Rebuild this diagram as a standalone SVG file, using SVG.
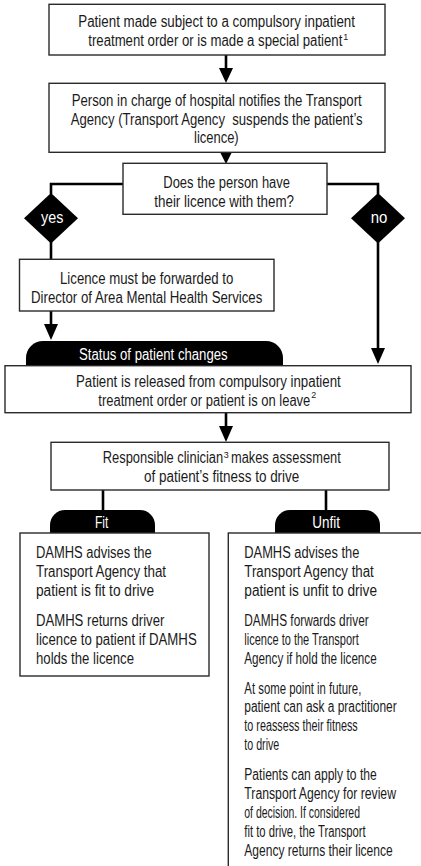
<svg xmlns="http://www.w3.org/2000/svg" width="421" height="866" viewBox="0 0 421 866">
<style>
.box{fill:#fff;stroke:#2a2a2a;stroke-width:1.4}
.t{font-family:"Liberation Sans",Arial,sans-serif;font-size:16px;fill:#1a1a1a}
.w{fill:#fff}
.sup{font-family:"Liberation Sans",Arial,sans-serif;font-size:9px;fill:#1a1a1a}
.ln{fill:none;stroke:#000;stroke-width:2.6}
.ah{fill:#000}
.blk{fill:#000}
</style>
<rect width="421" height="866" fill="#fff"/>
<g id="connectors">
<path class="ln" d="M226,55V70"/><polygon class="ah" points="219,68 233,68 226,83"/>
<path class="ln" d="M226,152V154"/><polygon class="ah" points="220,152 232,152 226,164"/>
<path class="ln" d="M123,184H51V194"/><path class="ln" d="M51,242V259"/>
<path class="ln" d="M327,184H378V194"/><path class="ln" d="M378,242V350"/><polygon class="ah" points="371,348 385,348 378,364"/>
<path class="ln" d="M51,311V326"/><polygon class="ah" points="44,324 58,324 51,340"/>
<path class="ln" d="M226,413V428"/><polygon class="ah" points="219,426 233,426 226,442"/>
<path class="ln" d="M103,490V511"/><path class="ln" d="M326,490V511"/>
</g>
<g id="n1">
<rect class="box" x="49" y="4.3" width="336" height="50.7"/>
<text class="t" x="78.3" y="27" textLength="276.7" lengthAdjust="spacingAndGlyphs">Patient made subject to a compulsory inpatient</text>
<text class="t" x="88.3" y="46.3" textLength="254" lengthAdjust="spacingAndGlyphs">treatment order or is made a special patient</text>
<text class="sup" x="343.3" y="39.5">1</text>
</g>
<g id="n2">
<rect class="box" x="49" y="83.3" width="336" height="69"/>
<text class="t" x="71.7" y="106" textLength="290" lengthAdjust="spacingAndGlyphs">Person in charge of hospital notifies the Transport</text>
<text class="t" x="70.7" y="124.7" textLength="292" lengthAdjust="spacingAndGlyphs">Agency (Transport Agency&#160; suspends the patient’s</text>
<text class="t" x="194" y="143.3" textLength="44.7" lengthAdjust="spacingAndGlyphs">licence)</text>
</g>
<g id="n3">
<rect class="box" x="123" y="163.3" width="204" height="51"/>
<text class="t" x="163.3" y="187.7" textLength="126.7" lengthAdjust="spacingAndGlyphs">Does the person have</text>
<text class="t" x="154.3" y="206.7" textLength="139.7" lengthAdjust="spacingAndGlyphs">their licence with them?</text>
</g>
<g id="yes">
<polygon class="blk" points="51,193 78,218.3 51,243.5 24,218.3"/>
<text class="t w" x="41" y="223.3" textLength="22.3" lengthAdjust="spacingAndGlyphs">yes</text>
</g>
<g id="no">
<polygon class="blk" points="378,193 405,218.3 378,243.5 351,218.3"/>
<text class="t w" x="370.7" y="223.3" textLength="16.6" lengthAdjust="spacingAndGlyphs">no</text>
</g>
<g id="n4">
<rect class="box" x="19.5" y="259.3" width="254.5" height="51.7"/>
<text class="t" x="60" y="284.3" textLength="173.3" lengthAdjust="spacingAndGlyphs">Licence must be forwarded to</text>
<text class="t" x="31" y="303.3" textLength="231.3" lengthAdjust="spacingAndGlyphs">Director of Area Mental Health Services</text>
</g>
<g id="status">
<path class="blk" d="M26,366V358A17,17 0 0 1 43,341H266A17,17 0 0 1 283,358V366Z"/>
<text class="t w" x="79" y="360" textLength="148.7" lengthAdjust="spacingAndGlyphs">Status of patient changes</text>
</g>
<g id="n5">
<rect class="box" x="5" y="365.7" width="406" height="47"/>
<text class="t" x="76" y="387" textLength="264.7" lengthAdjust="spacingAndGlyphs">Patient is released from compulsory inpatient</text>
<text class="t" x="98.3" y="406" textLength="212" lengthAdjust="spacingAndGlyphs">treatment order or patient is on leave</text>
<text class="sup" x="311.3" y="397.5">2</text>
</g>
<g id="n6">
<rect class="box" x="51" y="442.3" width="338" height="47.7"/>
<text class="t" x="102.7" y="463" textLength="120.5" lengthAdjust="spacingAndGlyphs">Responsible clinician</text>
<text class="sup" x="223.8" y="457.5">3</text>
<text class="t" x="231" y="463" textLength="109.7" lengthAdjust="spacingAndGlyphs">makes assessment</text>
<text class="t" x="144" y="482" textLength="155.3" lengthAdjust="spacingAndGlyphs">of patient’s fitness to drive</text>
</g>
<g id="fit">
<path class="blk" d="M50,533.5V525A15,15 0 0 1 65,510H140A15,15 0 0 1 155,525V533.5Z"/>
<text class="t w" x="95" y="528" textLength="13.3" lengthAdjust="spacingAndGlyphs">Fit</text>
</g>
<g id="unfit">
<path class="blk" d="M275,533.5V525A15,15 0 0 1 290,510H365A15,15 0 0 1 380,525V533.5Z"/>
<text class="t w" x="312.3" y="528" textLength="27.7" lengthAdjust="spacingAndGlyphs">Unfit</text>
</g>
<g id="n7">
<rect class="box" x="20" y="533" width="189" height="143"/>
<text class="t" x="36" y="558.3" textLength="115.7" lengthAdjust="spacingAndGlyphs">DAMHS advises the</text>
<text class="t" x="36" y="577.2" textLength="130" lengthAdjust="spacingAndGlyphs">Transport Agency that</text>
<text class="t" x="36" y="596.1" textLength="118" lengthAdjust="spacingAndGlyphs">patient is fit to drive</text>
<text class="t" x="36" y="626" textLength="128.3" lengthAdjust="spacingAndGlyphs">DAMHS returns driver</text>
<text class="t" x="36" y="644.9" textLength="160.7" lengthAdjust="spacingAndGlyphs">licence to patient if DAMHS</text>
<text class="t" x="36" y="663.8" textLength="98" lengthAdjust="spacingAndGlyphs">holds the licence</text>
</g>
<g id="n8">
<rect class="box" x="228.3" y="533" width="210" height="345"/>
<text class="t" x="244.3" y="558.3" textLength="115" lengthAdjust="spacingAndGlyphs">DAMHS advises the</text>
<text class="t" x="244.3" y="577.2" textLength="129.5" lengthAdjust="spacingAndGlyphs">Transport Agency that</text>
<text class="t" x="244.3" y="596.1" textLength="132.7" lengthAdjust="spacingAndGlyphs">patient is unfit to drive</text>
<text class="t" x="244.3" y="626" textLength="124.4" lengthAdjust="spacingAndGlyphs">DAMHS forwards driver</text>
<text class="t" x="244.3" y="644.9" textLength="114.5" lengthAdjust="spacingAndGlyphs">licence to the Transport</text>
<text class="t" x="244.3" y="663.8" textLength="132.4" lengthAdjust="spacingAndGlyphs">Agency if hold the licence</text>
<text class="t" x="244.3" y="693.5" textLength="117" lengthAdjust="spacingAndGlyphs">At some point in future,</text>
<text class="t" x="244.3" y="712.4" textLength="152.4" lengthAdjust="spacingAndGlyphs">patient can ask a practitioner</text>
<text class="t" x="244.3" y="731.3" textLength="113.4" lengthAdjust="spacingAndGlyphs">to reassess their fitness</text>
<text class="t" x="244.3" y="750.2" textLength="35" lengthAdjust="spacingAndGlyphs">to drive</text>
<text class="t" x="244.3" y="780" textLength="132.4" lengthAdjust="spacingAndGlyphs">Patients can apply to the</text>
<text class="t" x="244.3" y="798.9" textLength="151.7" lengthAdjust="spacingAndGlyphs">Transport Agency for review</text>
<text class="t" x="244.3" y="817.8" textLength="115.7" lengthAdjust="spacingAndGlyphs">of decision. If considered</text>
<text class="t" x="244.3" y="836.7" textLength="121.4" lengthAdjust="spacingAndGlyphs">fit to drive, the Transport</text>
<text class="t" x="244.3" y="855.6" textLength="148.4" lengthAdjust="spacingAndGlyphs">Agency returns their licence</text>
</g>
</svg>
